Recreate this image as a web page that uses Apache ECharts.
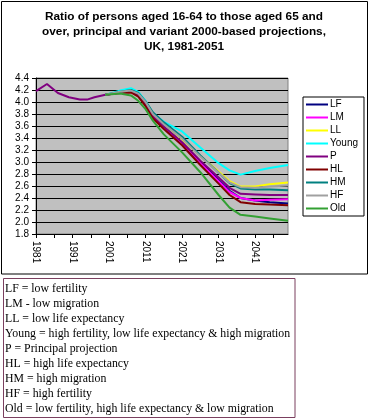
<!DOCTYPE html>
<html>
<head>
<meta charset="utf-8">
<script src="https://cdn.jsdelivr.net/npm/echarts@6/dist/echarts.min.js"></script>
<style>
html,body{margin:0;padding:0;background:#fff;}
#chart{width:371px;height:419px;}
</style>
</head>
<body>
<div id="chart"></div>
<script>
// ---- data ----
var titleLines = [
  'Ratio of persons aged 16-64 to those aged 65 and',
  'over, principal and variant 2000-based projections,',
  'UK, 1981-2051'
];
var firstYear = 1981, lastYear = 2050;
var seriesNames = ['LF', 'LM', 'LL', 'Young', 'P', 'HL', 'HM', 'HF', 'Old'];
var seriesColors = ['#000080', '#ff00ff', '#ffff00', '#00ffff', '#800080', '#800000', '#008080', '#a0a0a0', '#33a033'];

var histYears = [1981, 1984, 1987, 1990, 1993, 1995, 1997, 2000];
var histP     = [4.18, 4.30, 4.15, 4.08, 4.04, 4.04, 4.08, 4.12];

var projYears = [2000, 2004, 2007, 2009, 2011, 2013, 2016, 2021, 2026, 2031, 2034, 2037, 2041, 2045, 2050];
var LF    = [4.12, 4.16, 4.18, 4.12, 3.97, 3.77, 3.58, 3.32, 3.00, 2.70, 2.52, 2.40, 2.36, 2.33, 2.31];
var LM    = [4.12, 4.15, 4.17, 4.11, 3.96, 3.76, 3.57, 3.30, 2.98, 2.68, 2.50, 2.40, 2.36, 2.37, 2.38];
var LL    = [4.12, 4.17, 4.20, 4.14, 4.00, 3.81, 3.63, 3.38, 3.10, 2.84, 2.68, 2.59, 2.59, 2.63, 2.66];
var Young = [4.12, 4.19, 4.23, 4.17, 4.02, 3.81, 3.67, 3.51, 3.24, 2.98, 2.86, 2.79, 2.85, 2.90, 2.95];
var P     = [4.12, 4.16, 4.18, 4.12, 3.97, 3.77, 3.59, 3.33, 3.02, 2.74, 2.57, 2.47, 2.46, 2.45, 2.45];
var HL    = [4.12, 4.15, 4.16, 4.09, 3.93, 3.73, 3.55, 3.28, 2.95, 2.64, 2.45, 2.33, 2.30, 2.29, 2.28];
var HM    = [4.12, 4.17, 4.20, 4.15, 4.01, 3.83, 3.66, 3.42, 3.11, 2.82, 2.65, 2.56, 2.54, 2.54, 2.53];
var HF    = [4.12, 4.17, 4.19, 4.14, 4.00, 3.80, 3.63, 3.39, 3.09, 2.82, 2.66, 2.58, 2.57, 2.59, 2.61];
var Old   = [4.12, 4.14, 4.11, 4.02, 3.88, 3.69, 3.46, 3.16, 2.83, 2.45, 2.24, 2.12, 2.09, 2.06, 2.02];

var notes = [
  'LF = low fertility',
  'LM - low migration',
  'LL = low life expectancy',
  'Young = high fertility, low life expectancy & high migration',
  'P = Principal projection',
  'HL = high life expectancy',
  'HM = high migration',
  'HF = high fertility',
  'Old = low fertility, high life expectancy & low migration'
];

// ---- build ----
var categories = [];
for (var y = firstYear; y <= lastYear; y++) categories.push(String(y));

function pairs(years, vals) {
  return years.map(function (yr, i) { return [String(yr), vals[i]]; });
}
var projValues = {LF: LF, LM: LM, LL: LL, Young: Young, P: P, HL: HL, HM: HM, HF: HF, Old: Old};

var series = seriesNames.map(function (name, i) {
  var d = pairs(projYears, projValues[name]);
  if (name === 'P') d = pairs(histYears, histP).slice(0, -1).concat(d);
  return {
    name: name, type: 'line', data: d, showSymbol: false, symbol: 'none',
    lineStyle: {color: seriesColors[i], width: 2}, itemStyle: {color: seriesColors[i]},
    z: 2 + i, animation: false
  };
});

var serif = '"Times New Roman", "Liberation Serif", serif';
var sans = 'Arial, "Liberation Sans", sans-serif';

var graphics = [
  {type: 'rect', shape: {x: 1.5, y: 1.5, width: 366, height: 272.5},
   style: {fill: 'none', stroke: '#000', lineWidth: 1}, z: -10, silent: true},
  {type: 'rect', shape: {x: 3.5, y: 278.5, width: 291.5, height: 139},
   style: {fill: '#fff', stroke: '#7b3f5f', lineWidth: 1}, silent: true}
];
titleLines.forEach(function (t, i) {
  graphics.push({type: 'text', x: 184, y: 17 + i * 15, silent: true,
    style: {text: t, fill: '#000', font: 'bold 11.8px ' + sans, textAlign: 'center', textVerticalAlign: 'middle'}});
});
notes.forEach(function (t, i) {
  graphics.push({type: 'text', x: 5, y: 289 + i * 15.04, silent: true,
    style: {text: t, fill: '#000', font: '11.8px ' + serif, textAlign: 'left', textVerticalAlign: 'middle'}});
});

var chart = echarts.init(document.getElementById('chart'), null, {renderer: 'canvas'});
chart.setOption({
  animation: false,
  backgroundColor: 'transparent',
  grid: {left: 36, top: 78, width: 252, height: 156, show: true,
         backgroundColor: '#c0c0c0', borderColor: '#808080', borderWidth: 1},
  xAxis: {
    type: 'category', data: categories, boundaryGap: false,
    axisLine: {lineStyle: {color: '#000', width: 1}},
    axisTick: {show: true, interval: 4, length: 4, lineStyle: {color: '#000'}},
    axisLabel: {interval: 9, rotate: -90, margin: 7, color: '#000', fontSize: 10, fontFamily: sans},
    splitLine: {show: false}
  },
  yAxis: {
    type: 'value', min: 1.8, max: 4.4, interval: 0.2,
    axisLine: {show: true, lineStyle: {color: '#000', width: 1}},
    axisTick: {show: true, length: 4, lineStyle: {color: '#000'}},
    axisLabel: {color: '#000', fontSize: 10, fontFamily: sans, margin: 7,
                formatter: function (v) { return v.toFixed(1); }},
    splitLine: {show: true, lineStyle: {color: '#000', width: 1}}
  },
  legend: {
    orient: 'vertical', left: 303, top: 97, data: seriesNames,
    icon: 'rect', itemWidth: 22, itemHeight: 2, itemGap: 0,
    padding: [1, 6, 1, 3], borderColor: '#000', borderWidth: 1, backgroundColor: '#fff',
    textStyle: {color: '#000', fontSize: 10, fontFamily: sans, lineHeight: 13, padding: [0, 0, 0, -3]}
  },
  graphic: graphics,
  series: series
});
</script>
</body>
</html>
